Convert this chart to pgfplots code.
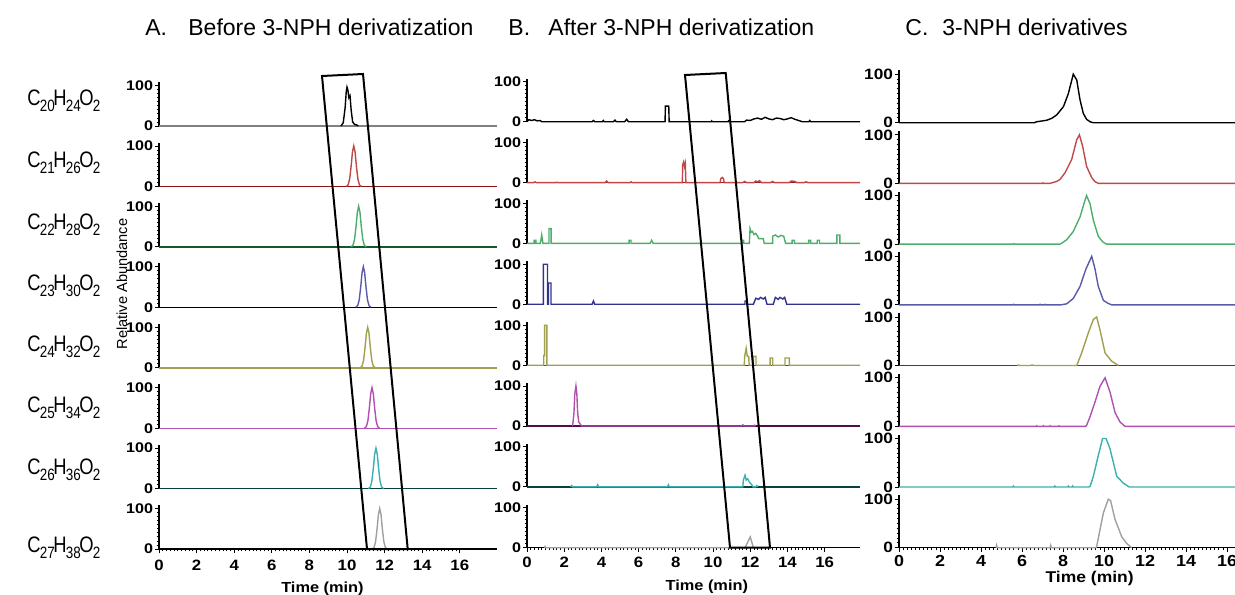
\documentclass[border=0pt]{standalone}
\usepackage{fontspec}
\setmainfont{Liberation Sans}
\newfontfamily\tickfont[FakeStretch=1.15]{Liberation Sans}
\newfontfamily\xtickfont[FakeStretch=1.12]{Liberation Sans}
\newfontfamily\labfont[FakeStretch=0.82]{Liberation Sans}
\usepackage{pgfplots}
\pgfplotsset{compat=1.18}

\definecolor{cRed}{RGB}{192,72,72}
\definecolor{cDRed}{RGB}{140,20,20}
\definecolor{cGreen}{RGB}{76,174,108}
\definecolor{cDGreen}{RGB}{20,90,40}
\definecolor{cBlue}{RGB}{90,90,170}
\definecolor{cNavy}{RGB}{50,50,140}
\definecolor{cOlive}{RGB}{160,160,80}
\definecolor{cDOlive}{RGB}{70,70,30}
\definecolor{cPurp}{RGB}{176,80,176}
\definecolor{cDPurp}{RGB}{80,16,70}
\definecolor{cTeal}{RGB}{58,176,176}
\definecolor{cDTeal}{RGB}{10,64,64}
\definecolor{cGray}{RGB}{160,160,160}

\newcommand\sub[1]{\kern-0.4pt\raisebox{-0.5ex}{\fontsize{8.2}{8}\selectfont #1}\kern-0.7pt}
\newcommand\formula[3]{C\sub{#1}H\sub{#2}O\sub{#3}}

\pgfplotsset{
  cell/.style={scale only axis, clip=false, axis y line=left, axis x line=bottom,
    axis line style={-, line width=0.6pt, black},
    x axis line style={draw=none}, xtick=\empty,
    ymin=0, ymax=108, ytick={0,100}, minor y tick num=9,
    tick align=outside, major tick length=2pt, minor tick length=1.2pt,
    tick style={black, line width=0.4pt},
    /pgf/number format/assume math mode=true,
    every axis plot/.append style={line width=0.7pt, mark=none},
  },
  colA/.style={cell, xmin=0, xmax=18, width=169.2pt, height=21.87pt,
    yticklabel style={font=\tickfont\bfseries\fontsize{7}{7}\selectfont, inner xsep=0.8pt, inner ysep=0pt},
    xticklabel style={font=\xtickfont\bfseries\fontsize{7.5}{7.5}\selectfont, inner ysep=0pt, yshift=-3.5pt}},
  colB/.style={cell, xmin=0, xmax=17.9, width=166.5pt, height=21.6pt,
    yticklabel style={font=\tickfont\bfseries\fontsize{7}{7}\selectfont, inner xsep=0.8pt, inner ysep=0pt},
    xticklabel style={font=\xtickfont\bfseries\fontsize{7.5}{7.5}\selectfont, inner ysep=0pt, yshift=-2.5pt}},
  colC/.style={cell, xmin=0, xmax=16.4, width=168.1pt, height=26.2pt,
    yticklabel style={font=\tickfont\bfseries\fontsize{7.5}{7.5}\selectfont, inner xsep=0.8pt, inner ysep=0pt},
    xticklabel style={font=\xtickfont\bfseries\fontsize{8}{8}\selectfont, inner ysep=0pt, yshift=-1.5pt}},
  bot/.style={x axis line style={draw=black}, xtick={0,2,...,16}, minor x tick num=9,
    xlabel={Time (min)}},
}

\begin{document}
\begin{tikzpicture}
\useasboundingbox (0,0) rectangle (617.5pt,-297pt);

% ---------- titles ----------
\begin{scope}[every node/.style={inner sep=0pt, anchor=base west, font=\fontsize{11.5}{12}\selectfont}]
\node at (72.5pt,-17.5pt) {A.};
\node at (94pt,-17.5pt) {Before 3-NPH derivatization};
\node at (254pt,-17.5pt) {B.};
\node at (274pt,-17.5pt) {After 3-NPH derivatization};
\node at (452.5pt,-17.5pt) {C.};
\node at (471pt,-17.5pt) {3-NPH derivatives};
\end{scope}

% ---------- row labels ----------
\begin{scope}[every node/.style={inner sep=0pt, anchor=west, font=\labfont\fontsize{11.2}{12}\selectfont}]
\node at (13.5pt,-50.5pt) {\formula{20}{24}{2}};
\node at (13.5pt,-81.5pt) {\formula{21}{26}{2}};
\node at (13.5pt,-112.5pt) {\formula{22}{28}{2}};
\node at (13.5pt,-143pt) {\formula{23}{30}{2}};
\node at (13.5pt,-173.5pt) {\formula{24}{32}{2}};
\node at (13.5pt,-204pt) {\formula{25}{34}{2}};
\node at (13.5pt,-235pt) {\formula{26}{36}{2}};
\node at (13.5pt,-274pt) {\formula{27}{38}{2}};
\end{scope}
\node[rotate=90, inner sep=0pt, font=\fontsize{7.3}{8}\selectfont] at (61pt,-142pt) {Relative Abundance};

% ================= Panel A =================
\begin{axis}[colA, at={(79.5pt,-63pt)}]
\addplot[gray] coordinates {(0,0)(18,0)};
\addplot[black] coordinates {(9.68,0)(9.8,8)(9.9,45)(9.96,85)(10.0,96)(10.05,88)(10.1,70)(10.16,75)(10.22,40)(10.3,10)(10.4,4)(10.5,3)(10.6,0)};
\end{axis}
\begin{axis}[colA, at={(79.5pt,-93.2pt)}]
\addplot[cDRed] coordinates {(0,0)(18,0)};
\addplot[cRed] coordinates {(9.96,0)(10.06,4)(10.14,18)(10.22,50)(10.29,85)(10.36,100)(10.43,85)(10.50,50)(10.58,18)(10.66,4)(10.76,0)};
\end{axis}
\begin{axis}[colA, at={(79.5pt,-123.4pt)}]
\addplot[cDGreen] coordinates {(0,0)(18,0)};
\addplot[cGreen] coordinates {(10.22,0)(10.32,4)(10.40,18)(10.48,50)(10.55,85)(10.62,100)(10.69,85)(10.76,50)(10.84,18)(10.92,4)(11.02,0)};
\end{axis}
\begin{axis}[colA, at={(79.5pt,-153.6pt)}]
\addplot[black] coordinates {(0,0)(18,0)};
\addplot[cBlue] coordinates {(10.47,0)(10.57,4)(10.65,18)(10.73,50)(10.80,85)(10.87,100)(10.94,85)(11.01,50)(11.09,18)(11.17,4)(11.27,0)};
\end{axis}
\begin{axis}[colA, at={(79.5pt,-183.9pt)}]
\addplot[cOlive] coordinates {(0,0)(18,0)};
\addplot[cOlive] coordinates {(10.70,0)(10.80,4)(10.88,18)(10.96,50)(11.03,85)(11.10,100)(11.17,85)(11.24,50)(11.32,18)(11.40,4)(11.50,0)};
\end{axis}
\begin{axis}[colA, at={(79.5pt,-214.1pt)}]
\addplot[cPurp] coordinates {(0,0)(18,0)};
\addplot[cPurp] coordinates {(10.93,0)(11.03,4)(11.11,18)(11.19,50)(11.26,85)(11.33,100)(11.40,85)(11.47,50)(11.55,18)(11.63,4)(11.73,0)};
\end{axis}
\begin{axis}[colA, at={(79.5pt,-244.3pt)}]
\addplot[cDTeal] coordinates {(0,0)(18,0)};
\addplot[cTeal] coordinates {(11.14,0)(11.24,4)(11.32,18)(11.40,50)(11.47,85)(11.54,100)(11.61,85)(11.68,50)(11.76,18)(11.84,4)(11.94,0)};
\end{axis}
\begin{axis}[colA, bot, at={(79.5pt,-274.5pt)},
  xlabel style={at={(rel axis cs:0.483,0)}, anchor=north, inner sep=0pt, yshift=-16.5pt, font=\xtickfont\bfseries\fontsize{7.3}{7.3}\selectfont}]
\addplot[cGray] coordinates {(11.34,0)(11.44,4)(11.52,18)(11.60,50)(11.67,85)(11.74,100)(11.81,85)(11.88,50)(11.96,18)(12.04,4)(12.14,0)};
\end{axis}

% ================= Panel B =================
\begin{axis}[colB, at={(263.5pt,-60.85pt)}]
\addplot[black] coordinates {(0,0)(0.1,5)(0.25,3)(0.4,5)(0.55,2)(0.7,3)(0.8,0)(3.5,0)(3.57,3)(3.65,0)(4.05,0)(4.1,3)(4.15,0)(4.65,0)(4.73,4)(4.8,0)(5.25,0)(5.36,6)(5.45,0)(7.42,0)(7.44,39)(7.62,39)(7.64,0)(9.9,0)(9.93,2)(9.96,0)(10.8,0)(10.83,2)(10.86,0)(11.7,0)(11.8,4)(12.0,3)(12.2,7)(12.4,9)(12.6,6)(12.8,11)(13.0,7)(13.2,5)(13.4,9)(13.6,8)(13.8,5)(14.0,7)(14.2,10)(14.4,6)(14.6,3)(14.8,0)(15.15,0)(15.2,3)(15.25,0)(17.9,0)};
\end{axis}
\begin{axis}[colB, at={(263.5pt,-91.3pt)}]
\addplot[cDRed] coordinates {(0,0)(17.9,0)};
\addplot[cRed] coordinates {(0,0)(0.35,0)(0.43,2)(0.5,0)(1.55,0)(1.6,1)(1.65,0)(4.2,0)(4.28,4)(4.36,0)(5.55,0)(5.6,2)(5.65,0)(8.35,0)(8.37,45)(8.42,52)(8.47,40)(8.51,48)(8.54,0)(10.38,0)(10.42,10)(10.5,13)(10.56,10)(10.6,0)(11.6,0)(11.7,3)(11.8,0)(12.2,0)(12.3,4)(12.4,2)(12.5,5)(12.6,0)(13.1,0)(13.2,3)(13.3,0)(14.1,0)(14.2,4)(14.4,3)(14.5,0)(14.9,0)(15.0,2)(15.1,0)(17.9,0)};
\end{axis}
\begin{axis}[colB, at={(263.5pt,-121.7pt)}]
\addplot[cGreen] coordinates {(0,0)(0.38,0)(0.38,8)(0.48,8)(0.48,0)(0.72,0)(0.79,21)(0.86,0)(1.18,0)(1.18,37)(1.30,37)(1.30,0)(5.49,0)(5.49,8)(5.59,8)(5.59,0)(6.62,0)(6.7,8)(6.78,0)(11.55,0)(11.55,8)(11.65,8)(11.65,0)(11.95,0)(11.99,37)(12.05,28)(12.12,30)(12.2,22)(12.3,25)(12.4,18)(12.45,12)(12.6,12)(12.7,12)(12.75,0)(13.2,0)(13.2,18)(13.35,21)(13.5,16)(13.65,20)(13.8,18)(13.9,0)(14.25,0)(14.25,8)(14.37,8)(14.37,0)(15.15,0)(15.15,8)(15.25,8)(15.25,0)(15.6,0)(15.6,8)(15.72,8)(15.72,0)(16.66,0)(16.66,21)(16.82,21)(16.82,0)(17.9,0)};
\end{axis}
\begin{axis}[colB, at={(263.5pt,-152.1pt)}]
\addplot[cNavy] coordinates {(0,0)(0.88,0)(0.88,100)(1.1,100)(1.1,0)(1.15,0)(1.15,53)(1.29,53)(1.29,0)(3.5,0)(3.57,8)(3.64,0)(11.72,0)(11.72,8)(11.82,8)(11.82,0)(12.17,0)(12.3,15)(12.45,12)(12.55,17)(12.7,13)(12.8,17)(12.9,0)(13.24,0)(13.35,17)(13.5,12)(13.6,17)(13.75,13)(13.85,17)(13.96,0)(17.9,0)};
\end{axis}
\begin{axis}[colB, at={(263.5pt,-182.6pt)}]
\addplot[cDOlive] coordinates {(0,0)(17.9,0)};
\addplot[cOlive] coordinates {(0,0)(0.9,0)(0.9,24)(0.95,24)(0.95,100)(1.07,100)(1.07,0)(11.68,0)(11.7,22)(11.78,42)(11.84,22)(11.92,22)(11.94,0)(12.17,0)(12.17,22)(12.31,22)(12.31,0)(13.07,0)(13.07,18)(13.21,18)(13.21,0)(13.87,0)(13.87,18)(14.1,18)(14.1,0)(17.9,0)};
\end{axis}
\begin{axis}[colB, at={(263.5pt,-213pt)}]
\addplot[cDPurp] coordinates {(0,0)(17.9,0)};
\addplot[cPurp] coordinates {(2.45,0)(2.52,30)(2.57,80)(2.63,100)(2.68,80)(2.72,35)(2.78,10)(2.9,2)(2.95,0)(11.55,0)(11.6,3)(11.68,0)(12.18,0)(12.23,2)(12.28,0)};
\end{axis}
\begin{axis}[colB, at={(263.5pt,-243.4pt)}]
\addplot[cDTeal] coordinates {(0,0)(17.9,0)};
\addplot[cTeal] coordinates {(2.35,0)(2.4,3)(2.45,0)(3.75,0)(3.8,5)(3.85,0)(7.55,0)(7.6,5)(7.65,0)(11.6,0)(11.63,17)(11.72,29)(11.78,17)(11.86,20)(11.95,12)(12.08,5)(12.15,0)(12.3,0)(12.35,3)(12.4,0)};
\end{axis}
\begin{axis}[colB, bot, at={(263.5pt,-273.85pt)},
  xlabel style={at={(rel axis cs:0.54,0)}, anchor=north, inner sep=0pt, yshift=-16pt, font=\xtickfont\bfseries\fontsize{7.3}{7.3}\selectfont}]
\addplot[cGray] coordinates {(0.93,0)(0.97,3)(1.01,0)(11.72,0)(12.0,27)(12.17,0)};
\end{axis}

% ================= Panel C =================
\begin{axis}[colC, at={(449.5pt,-61.35pt)}]
\addplot[black] coordinates {(0,0)(6.6,0)(6.72,2)(7.2,5)(7.45,9)(7.69,16)(8.02,33)(8.26,60)(8.5,100)(8.67,88)(8.83,47)(8.99,19)(9.15,7)(9.32,2)(9.47,0)(16.4,0)};
\end{axis}
\begin{axis}[colC, at={(449.5pt,-91.7pt)}]
\addplot[cRed] coordinates {(0,0)(7.0,0)(7.02,1)(7.04,0)(7.36,0)(7.69,4)(7.85,8)(8.10,22)(8.42,49)(8.67,90)(8.80,100)(8.96,76)(9.15,35)(9.40,12)(9.55,4)(9.72,0)(16.4,0)};
\end{axis}
\begin{axis}[colC, at={(449.5pt,-122.05pt)}]
\addplot[cGreen] coordinates {(0,0)(5.58,0)(5.61,1)(5.64,0)(7.85,0)(7.94,2)(8.18,9)(8.50,26)(8.83,56)(9.07,90)(9.15,100)(9.32,83)(9.48,49)(9.72,16)(9.95,4)(10.13,0)(16.4,0)};
\end{axis}
\begin{axis}[colC, at={(449.5pt,-152.4pt)}]
\addplot[cBlue] coordinates {(0,0)(5.55,0)(5.58,1)(5.61,0)(6.85,0)(6.88,1)(6.91,0)(7.09,0)(7.12,1)(7.15,0)(7.9,0)(8.18,2)(8.5,13)(8.83,38)(9.12,74)(9.4,100)(9.56,74)(9.72,38)(9.97,9)(10.2,3)(10.37,0)(16.4,0)};
\end{axis}
\begin{axis}[colC, at={(449.5pt,-182.75pt)}]
\addplot[cDOlive] coordinates {(0,0)(16.4,0)};
\addplot[cOlive] coordinates {(5.75,0)(5.8,1)(5.9,0)(6.4,0)(6.5,1)(6.6,0)(8.67,0)(8.91,26)(9.24,68)(9.48,95)(9.64,100)(9.8,74)(10.05,26)(10.37,9)(10.7,0)};
\end{axis}
\begin{axis}[colC, at={(449.5pt,-213.15pt)}]
\addplot[cPurp] coordinates {(0,0)(6.7,0)(6.72,1)(6.74,0)(7.02,0)(7.04,1)(7.06,0)(7.35,0)(7.37,1)(7.39,0)(7.78,0)(7.8,1)(7.82,0)(9.1,0)(9.15,2)(9.32,20)(9.56,50)(9.8,82)(10.05,100)(10.29,71)(10.54,28)(10.78,9)(11.02,0)(16.4,0)};
\end{axis}
\begin{axis}[colC, at={(449.5pt,-243.5pt)}]
\addplot[cTeal] coordinates {(0,0)(5.55,0)(5.58,2)(5.61,0)(7.57,0)(7.6,2)(7.63,0)(8.23,0)(8.26,2)(8.29,0)(8.44,0)(8.47,2)(8.5,0)(9.25,0)(9.32,1)(9.48,22)(9.72,65)(9.93,100)(10.1,100)(10.29,79)(10.62,22)(10.94,8)(11.23,0)(16.4,0)};
\end{axis}
\begin{axis}[colC, bot, at={(449.5pt,-273.85pt)},
  xlabel style={at={(rel axis cs:0.567,0)}, anchor=north, inner sep=0pt, yshift=-11.5pt, font=\xtickfont\bfseries\fontsize{7.8}{7.8}\selectfont}]
\addplot[cGray] coordinates {(4.73,0)(4.76,5)(4.79,0)(7.37,0)(7.4,5)(7.43,0)(9.6,0)(9.64,2)(9.77,30)(9.97,72)(10.21,100)(10.32,97)(10.54,58)(10.86,23)(11.1,9)(11.35,0)};
\end{axis}

% ---------- highlight boxes ----------
\draw[line width=1pt, black, line join=miter] (161pt,-38pt) -- (181.5pt,-37pt) -- (203.85pt,-274.5pt) -- (183.5pt,-274.5pt) -- cycle;
\draw[line width=1pt, black, line join=miter] (342.5pt,-37.5pt) -- (362.85pt,-36.5pt) -- (385pt,-273.85pt) -- (365pt,-273.85pt) -- cycle;
\end{tikzpicture}
\end{document}
